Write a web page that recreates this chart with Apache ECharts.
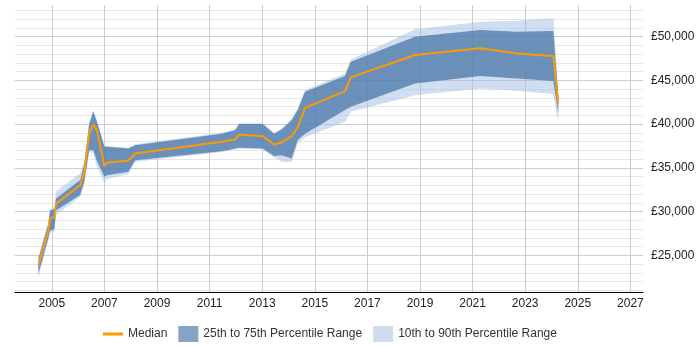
<!DOCTYPE html>
<html>
<head>
<meta charset="utf-8">
<script src="https://cdn.jsdelivr.net/npm/echarts@6/dist/echarts.min.js"></script>
<style>
  html, body { margin: 0; padding: 0; background: #fff; }
  #chart { width: 700px; height: 350px; }
</style>
</head>
<body>
<div id="chart"></div>
<script>
// decimal years of each sample
const years = [2004.49, 2004.87, 2004.93, 2005.1, 2005.16, 2006.08, 2006.24, 2006.42, 2006.58, 2006.71,
  2007.0, 2007.09, 2007.91, 2008.17, 2011.46, 2011.97, 2012.12, 2013.02, 2013.45, 2013.74,
  2014.12, 2014.35, 2014.63, 2016.15, 2016.37, 2018.81, 2021.29, 2022.68, 2024.07, 2024.26];

const median = [23860, 27860, 29200, 29380, 30900, 33000, 34530, 38900, 39950, 39300,
  35180, 35600, 35790, 36630, 37960, 38230, 38800, 38610, 37660, 37890,
  38610, 39600, 41850, 43760, 45330, 47880, 48650, 48070, 47770, 42350];
const p25 = [22900, 27000, 27800, 28000, 30150, 31900, 33500, 37000, 37000, 35800,
  33960, 34150, 34530, 35870, 36900, 37200, 37300, 37200, 36330, 36440,
  36060, 38160, 38890, 41590, 41980, 44640, 45480, 45210, 44910, 41210];
const p75 = [24600, 28600, 30100, 30300, 31500, 33600, 35500, 40000, 41400, 40300,
  37400, 37400, 37200, 37580, 38900, 39300, 39990, 39990, 38890, 39380,
  40440, 41590, 43690, 45480, 47110, 49980, 50740, 50550, 50630, 43110];
const p10 = [22500, 26700, 27500, 27700, 29600, 31700, 33200, 36800, 36700, 35200,
  33240, 33700, 34300, 35700, 36800, 37100, 37200, 37100, 36200, 35700,
  35670, 37800, 38500, 40250, 41400, 43300, 44070, 43800, 43420, 40100];
const p90 = [24800, 28900, 30300, 30500, 32300, 34400, 35800, 40200, 41600, 40500,
  37500, 37500, 37300, 37700, 39000, 39400, 40100, 40100, 39000, 39500,
  40600, 41800, 43900, 45780, 47380, 50820, 51690, 51800, 52100, 43530];

const names = ["Median", "25th to 75th Percentile Range", "10th to 90th Percentile Range"];

// x is measured in years after 2005 so the 2-year ticks land on odd years
const BASE = 2005;
const xs = years.map(y => y - BASE);

const font = "Liberation Sans";

function band(lo, hi, fill) {
  return function(params, api) {
    if (params.dataIndex !== 0) return;
    const top = xs.map((x, i) => api.coord([x, hi[i]]));
    const bottom = xs.map((x, i) => api.coord([x, lo[i]])).reverse();
    return {
      type: "polygon",
      shape: { points: top.concat(bottom) },
      style: { fill: fill }
    };
  };
}

let option = {
  animation: false,
  textStyle: { fontFamily: font },
  grid: { left: 15, right: 57, top: 5, bottom: 58 },
  legend: {
    bottom: 3,
    left: 98,
    itemWidth: 20,
    itemHeight: 16,
    itemGap: 11,
    textStyle: { fontSize: 12, color: "#333", fontFamily: font },
    data: [
      {
        name: names[0],
        icon: "path://M0,0 M0,6.5 L20,6.5 L20,9.5 L0,9.5 Z M20,16",
        itemStyle: { color: "#ff9900" }
      },
      { name: names[1], icon: "rect", itemStyle: { color: "#85a3c6" } },
      { name: names[2], icon: "rect", itemStyle: { color: "#cfdded" } }
    ]
  },
  xAxis: {
    type: "value",
    min: 2003.6 - BASE,
    max: 2027.48 - BASE,
    minInterval: 2,
    maxInterval: 2,
    axisLine: { show: true, lineStyle: { color: "#000", width: 1 } },
    axisTick: { show: false },
    axisLabel: {
      color: "#222",
      fontSize: 12,
      margin: 6,
      formatter: v => (Number.isInteger(v) && v % 2 === 0 ? String(v + BASE) : "")
    },
    splitLine: { show: true, showMinLine: false, showMaxLine: false, lineStyle: { color: "#cccccc" } }
  },
  yAxis: {
    type: "value",
    position: "right",
    min: 20800,
    max: 53600,
    minInterval: 5000,
    maxInterval: 5000,
    axisLine: { show: false },
    axisTick: { show: false },
    axisLabel: {
      color: "#222",
      fontSize: 12,
      margin: 8,
      formatter: v => (v % 5000 === 0 ? "£" + v.toLocaleString("en-GB") : "")
    },
    splitLine: { show: true, showMaxLine: false, lineStyle: { color: "#cccccc" } },
    minorTick: { show: false, splitNumber: 5 },
    minorSplitLine: { show: true, lineStyle: { color: "#e6e6e6" } }
  },
  series: [
    {
      name: names[2],
      type: "custom",
      renderItem: band(p10, p90, "rgba(160,190,225,0.5)"),
      encode: { x: 0, y: [1, 2] },
      data: xs.map((x, i) => [x, p10[i], p90[i]]),
      z: 2
    },
    {
      name: names[1],
      type: "custom",
      renderItem: band(p25, p75, "rgba(64,112,165,0.7)"),
      encode: { x: 0, y: [1, 2] },
      data: xs.map((x, i) => [x, p25[i], p75[i]]),
      z: 3
    },
    {
      name: names[0],
      type: "line",
      symbol: "none",
      itemStyle: { color: "#ff9900" },
      lineStyle: { color: "#ff9900", width: 2 },
      data: xs.map((x, i) => [x, median[i]]),
      z: 5
    }
  ]
};

let myChart = echarts.init(document.getElementById("chart"));
myChart.setOption(option);
window.addEventListener("resize", function() {
  myChart.resize();
});
</script>
</body>
</html>
